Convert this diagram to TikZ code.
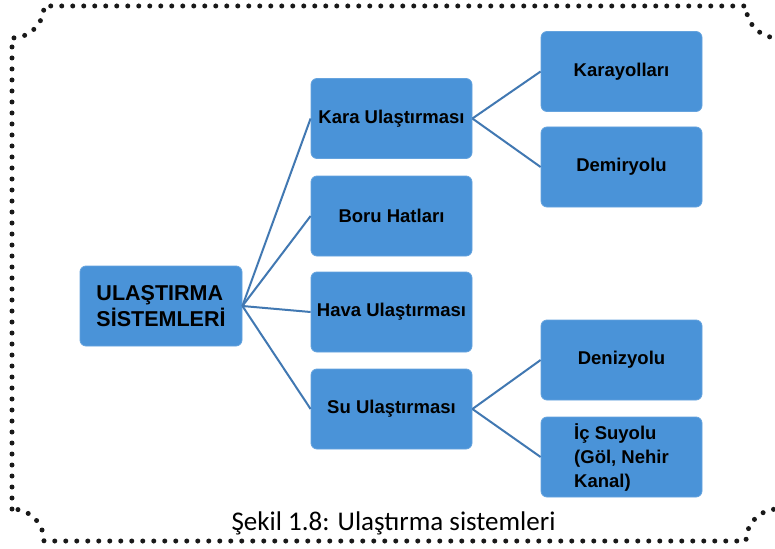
\documentclass[tikz,border=0pt]{standalone}
\usepackage{fontspec}
\setmainfont{Liberation Sans}
\newfontfamily\capfont{Carlito}
\definecolor{boxblue}{HTML}{4A93D8}
\definecolor{linkblue}{HTML}{4178B2}
\tikzset{
  catbox/.style={draw=boxblue!85!white, line width=0.8pt, fill=boxblue, rounded corners=6pt,
    minimum width=161pt, minimum height=80pt, inner sep=0pt, align=center,
    font=\bfseries\fontsize{18.5}{24}\selectfont, text=black},
  rootbox/.style={catbox, minimum width=162pt, align=left,
    font=\bfseries\fontsize{21.5}{25.5}\selectfont},
  link/.style={draw=linkblue, line width=2pt},
  frame/.style={draw=black!90, line width=5pt, line cap=round, dash pattern=on 0pt off 11pt}
}
\begin{document}
\begin{tikzpicture}[x=1pt,y=-1pt]
\useasboundingbox (0,0) rectangle (775,548);
\fill[white] (0,0) rectangle (775,548);
\clip (0,0) rectangle (775,548);
% dotted frame with inverted corners
\draw[frame] (12,509) -- (12,38) arc[start angle=90,end angle=0,radius=32]
  -- (746,6) arc[start angle=180,end angle=90,radius=32]
  -- (778,509) arc[start angle=270,end angle=180,radius=32]
  -- (44,541) arc[start angle=0,end angle=-90,radius=32];
% nodes
\node[rootbox] (root) at (161,306) {ULAŞTIRMA\\SİSTEMLERİ};
\node[catbox] (kara) at (391.5,118.5) {Kara Ulaştırması};
\node[catbox] (boru) at (391.5,216) {Boru Hatları};
\node[catbox] (hava) at (391.5,312) {Hava Ulaştırması};
\node[catbox] (su) at (391.5,409) {Su Ulaştırması};
\node[catbox] (karayol) at (621.5,71.5) {Karayolları};
\node[catbox] (demir) at (621.5,167) {Demiryolu};
\node[catbox] (deniz) at (621.5,360) {Denizyolu};
\node[catbox, align=left] (icsu) at (621.5,457) {İç Suyolu\\(Göl, Nehir\\Kanal)};
% connectors
\draw[link] (root.east) -- (kara.west);
\draw[link] (root.east) -- (boru.west);
\draw[link] (root.east) -- (hava.west);
\draw[link] (root.east) -- (su.west);
\draw[link] (kara.east) -- (karayol.west);
\draw[link] (kara.east) -- (demir.west);
\draw[link] (su.east) -- (deniz.west);
\draw[link] (su.east) -- (icsu.west);
% caption
\node[anchor=base, inner sep=0pt, font=\capfont\fontsize{27}{32}\selectfont] (cap) at (393.5,530) {Şekil 1.8: Ulaştırma sistemleri};
\end{tikzpicture}
\end{document}
